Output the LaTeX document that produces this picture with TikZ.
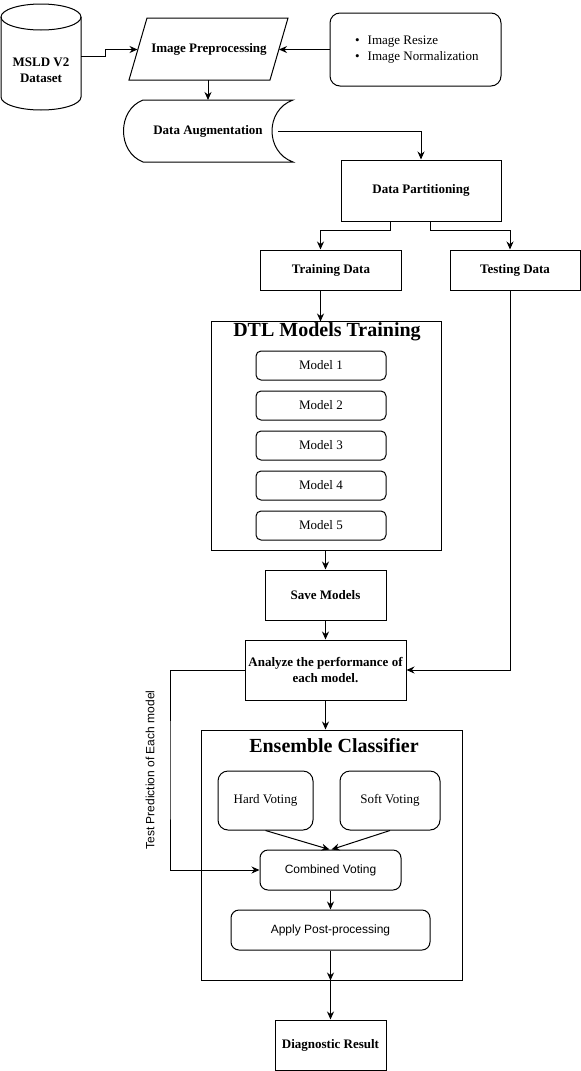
\documentclass[tikz,border=0pt]{standalone}
\usepackage{fontspec}
\setmainfont{Liberation Serif}
\setsansfont{Liberation Sans}
\usetikzlibrary{arrows.meta}
\begin{document}
\begin{tikzpicture}[x=1pt,y=-1pt,
  every node/.style={inner sep=0pt},
  shp/.style={draw,line width=1pt},
  arr/.style={line width=1pt,-{Stealth[length=8pt,width=7pt]}},
  box/.style={draw,line width=1pt,font=\bfseries\fontsize{13}{16}\selectfont,align=center},
  rbox/.style={draw,line width=1pt,rounded corners=5pt,font=\fontsize{13}{16}\selectfont},
  sbox/.style={draw,line width=1pt,rounded corners=8pt,font=\sffamily\fontsize{12}{14}\selectfont},
  title/.style={font=\bfseries\fontsize{20}{24}\selectfont},
  bold/.style={font=\bfseries\fontsize{13}{16}\selectfont,align=center}]
\useasboundingbox (0,0) rectangle (581,1071);
% cylinder
\draw[shp,fill=white] (1,17) -- (1,97) arc[start angle=180,end angle=0,x radius=40,y radius=13] -- (81,17);
\draw[shp] (41,17) ellipse [x radius=40,y radius=13];
\node[bold] (cyl) at (41,70) {MSLD V2\\Dataset};
\coordinate (cyl-e) at (81,56);
% parallelogram
\draw[shp] (147,18) -- (288,18) -- (270,80) -- (129,80) -- cycle;
\node[bold] (ip) at (209,49.5) {Image Preprocessing};
\coordinate (ip-w) at (137.5,49.5);
\coordinate (ip-e) at (279,49.5);
\coordinate (ip-s) at (208,80);
% bullet box
\node[draw,line width=1pt,rounded corners=10pt,minimum width=171pt,minimum height=73pt] (bl) at (415.5,49.5) {};
\node[font=\fontsize{13}{16}\selectfont,align=left,anchor=west] (blt) at (355,50) {\textbullet\hspace{8pt}Image Resize\\\textbullet\hspace{8pt}Image Normalization};
% data augmentation
\draw[shp] (143,100) -- (293,100) .. controls (265,110) and (265,152) .. (293,162) -- (143,162) .. controls (117,152) and (117,110) .. (143,100) -- cycle;
\node[bold] (da) at (208,131) {Data Augmentation};
\coordinate (da-n) at (208,100);
\coordinate (da-e) at (278,131);
% boxes
\node[box,minimum width=160pt,minimum height=61pt] (dp) at (421,190.5) {Data Partitioning};
\node[box,minimum width=141pt,minimum height=40pt] (train) at (331,270) {Training Data};
\node[box,minimum width=130pt,minimum height=40pt] (test) at (515,270) {Testing Data};
\node[draw,line width=1pt,minimum width=230pt,minimum height=229pt] (dtl) at (326,435.5) {};
\node[title] (dtlt) at (327,332) {DTL Models Training};
\node[rbox,minimum width=130pt,minimum height=29pt] (m1) at (321,365.5) {Model 1};
\node[rbox,minimum width=130pt,minimum height=29pt] (m2) at (321,405.5) {Model 2};
\node[rbox,minimum width=130pt,minimum height=29pt] (m3) at (321,445.5) {Model 3};
\node[rbox,minimum width=130pt,minimum height=29pt] (m4) at (321,485.5) {Model 4};
\node[rbox,minimum width=130pt,minimum height=29pt] (m5) at (321,525.5) {Model 5};
\node[box,minimum width=121pt,minimum height=50pt] (save) at (325.5,595) {Save Models};
\node[box,minimum width=161pt,minimum height=60pt] (an) at (325.5,670) {Analyze the performance of\\each model.};
\node[draw,line width=1pt,minimum width=261pt,minimum height=250pt] (ens) at (331.5,855) {};
\node[title] (enst) at (334,746) {Ensemble Classifier};
\node[rbox,rounded corners=10pt,minimum width=95pt,minimum height=59pt] (hv) at (265.5,800.5) {Hard Voting};
\node[rbox,rounded corners=10pt,minimum width=100pt,minimum height=59pt] (sv) at (390,800.5) {Soft Voting};
\node[sbox,minimum width=141pt,minimum height=40pt] (cv) at (330.5,870) {Combined Voting};
\node[sbox,minimum width=199pt,minimum height=40pt] (pp) at (330.5,930) {Apply Post-processing};
\node[box,minimum width=111pt,minimum height=50pt] (diag) at (330.5,1045) {Diagnostic Result};
\node[rotate=90,font=\sffamily\fontsize{12}{14}\selectfont] (lbl) at (150,770) {Test Prediction of Each model};
\coordinate (bend) at (170,770);
% connectors
\draw[arr] (cyl-e) -- (105,56) -- (105,49.5) -- (ip-w);
\draw[arr] (bl.west) -- (ip-e);
\draw[arr] (ip-s) -- (da-n);
\draw[arr] (da-e) -| (dp.north);
\draw[arr] ([xshift=-31pt]dp.south) -- ++(0,9) -| ([xshift=-10.5pt]train.north);
\draw[arr] ([xshift=9pt]dp.south) -- ++(0,9) -| ([xshift=-5pt]test.north);
\draw[arr] ([xshift=-10.5pt]train.south) -- ++(0,31);
\draw[arr] (dtl.south -| save.north) -- (save.north);
\draw[arr] (save) -- (an);
\draw[arr] ([xshift=-5pt]test.south) |- (an.east);
\draw[arr] (an.west) -| (bend) |- (cv.west);
\draw[arr] (an.south) -- (an.south |- ens.north);
\draw[arr] (hv.south) -- ([xshift=-1pt]cv.north);
\draw[arr] (sv.south) -- ([xshift=1pt]cv.north);
\draw[arr] (cv) -- (pp);
\draw[arr] (pp.south) -- (pp.south |- ens.south);
\draw[arr] (pp.south |- ens.south) -- (diag.north);
\end{tikzpicture}
\end{document}
